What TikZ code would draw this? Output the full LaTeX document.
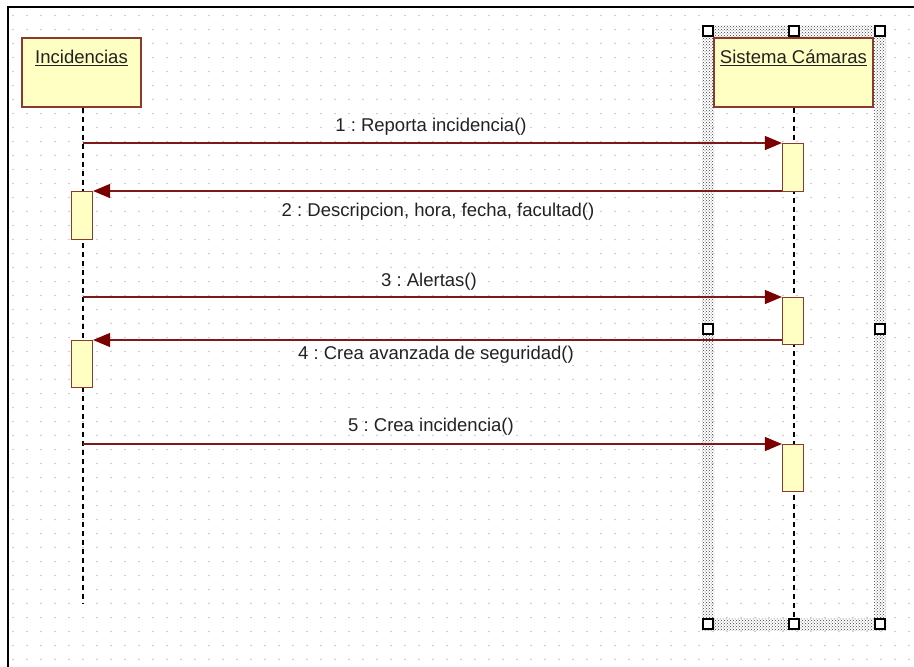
\documentclass[tikz,border=0pt]{standalone}
\usepackage{fontspec}
\setmainfont{Liberation Sans}
\usetikzlibrary{arrows.meta,patterns}
\frenchspacing
\definecolor{boxfill}{HTML}{FFFFC4}
\definecolor{boxline}{HTML}{8B3A2E}
\definecolor{msgline}{HTML}{7A1A1A}
\definecolor{tipcol}{HTML}{7A0000}
\definecolor{txt}{HTML}{222222}
\tikzset{
  x=1pt,y=-1pt,
  objbox/.style={draw=boxline,fill=boxfill,line width=1.2pt,minimum width=119pt,minimum height=69pt,inner sep=0pt},
  actbox/.style={draw=boxline,fill=boxfill,line width=1.2pt,minimum width=21pt,inner sep=0pt},
  lifeline/.style={draw=black,line width=1.3pt,dash pattern=on 5pt off 4pt},
  msg/.style={draw=msgline,line width=1.3pt,-{Triangle[length=17pt,width=14pt,fill=tipcol,color=tipcol]}},
  lbl/.style={font=\fontsize{18.5}{21}\selectfont,text=txt,inner sep=0pt},
  handle/.style={draw=black,fill=white,line width=1.3pt,minimum size=10pt,inner sep=0pt},
  band/.style={pattern=crosshatch dots,pattern color=black!75,draw=none}
}
\begin{document}
\begin{tikzpicture}
\useasboundingbox (0,0) rectangle (914,667);
\fill[white] (0,0) rectangle (914,667);
% dot grid
\foreach \i in {0,...,64}{
  \foreach \j in {0,...,46}{
    \fill[gray!45] (13+14*\i,15.5+14*\j) circle (0.9pt);
  }
}
% frame
\draw[black,line width=2pt] (8,667) -- (8,7) -- (914,7);
% selection band
\fill[band] (702,25) rectangle (714,630);
\fill[band] (874,25) rectangle (886,630);
\fill[band] (702,25) rectangle (886,37);
\fill[band] (702,618) rectangle (886,630);
% objects
\node[objbox] (I) at (81.5,72.5) {};
\node[lbl,anchor=center] at (81.5,58) {\underline{Incidencias}};
\node[objbox,minimum width=159pt] (S) at (793.5,72.5) {};
\node[lbl,anchor=center] at (793.5,58) {\underline{Sistema Cámaras}};
% lifeline ends
\coordinate (Iend) at (83,604);
\coordinate (Send) at (794,618);
\draw[lifeline] (I.south -| Iend) -- (Iend);
\draw[lifeline] (S.south -| Send) -- (Send);
% activations
\node[actbox,minimum height=48pt,anchor=north] (a1) at (793,143) {};
\node[actbox,minimum height=48pt,anchor=north] (a2) at (82,191) {};
\node[actbox,minimum height=47pt,anchor=north] (a3) at (793,297) {};
\node[actbox,minimum height=47pt,anchor=north] (a4) at (82,340) {};
\node[actbox,minimum height=47pt,anchor=north] (a5) at (793,444) {};
% message start points on Incidencias lifeline
\coordinate (s1) at (Iend |- a1.north);
\coordinate (s3) at (Iend |- a3.north);
\coordinate (s5) at (Iend |- a5.north);
% messages
\draw[msg] (s1) -- (a1.north west);
\draw[msg] (a1.west |- a2.north) -- (a2.north east);
\draw[msg] (s3) -- (a3.north west);
\draw[msg] (a3.west |- a4.north) -- (a4.north east);
\draw[msg] (s5) -- (a5.north west);
% labels
\node[lbl] (l1) at (431,127) {1 : Reporta incidencia()};
\node[lbl] (l2) at (438,212) {2 : Descripcion, hora, fecha, facultad()};
\node[lbl] (l3) at (429,282) {3 : Alertas()};
\node[lbl] (l4) at (436,355) {4 : Crea avanzada de seguridad()};
\node[lbl] (l5) at (431,427) {5 : Crea incidencia()};
% handles
\foreach \p/\n in {{708,31}/h1,{794,31}/h2,{880,31}/h3,{708,329}/h4,{880,329}/h5,{708,624}/h6,{794,624}/h7,{880,624}/h8}{
  \node[handle] (\n) at (\p) {};
}
\end{tikzpicture}
\end{document}
